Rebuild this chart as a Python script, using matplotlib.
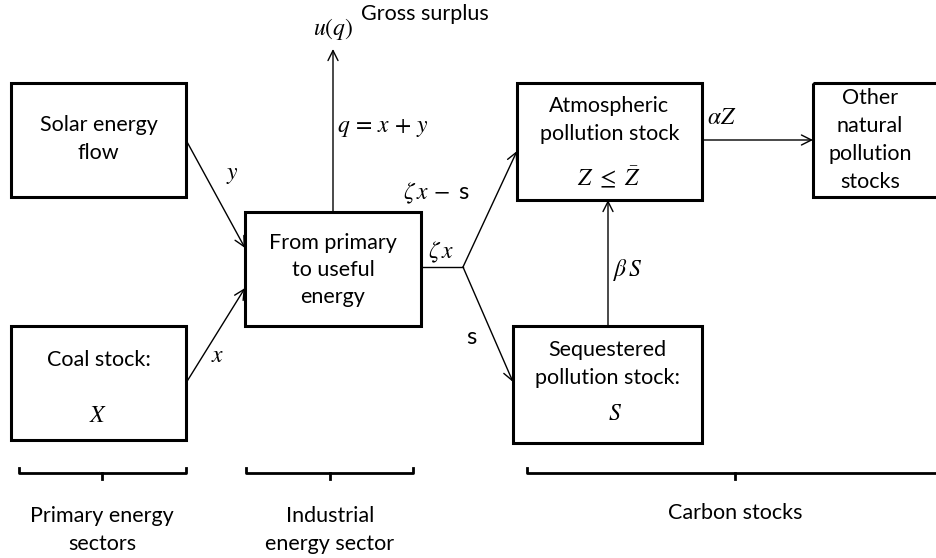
import matplotlib.pyplot as plt
from matplotlib.patches import Rectangle

plt.rcParams['font.family'] = ['Lato', 'DejaVu Sans']
plt.rcParams['mathtext.fontset'] = 'stix'

# boxes: (x0, y0, x1, y1) in pixel coords of the picture, and their labels
box_names = ['solar', 'coal', 'mid', 'atmo', 'other', 'seq']
box_rects = [(11, 83, 186, 197), (11, 326, 186, 440), (245, 212, 421, 326),
             (517, 83, 702, 200), (813, 83, 960, 197), (513, 326, 702, 443)]
box_texts = ['Solar energy\nflow', 'Coal stock:', 'From primary\nto useful\nenergy',
             'Atmospheric\npollution stock', 'Other\nnatural\npollution\nstocks',
             'Sequestered\npollution stock:']
box_text_y = [139, 360, 270, 120, 140, 364]
box_spacing = [1.45, 1.45, 1.45, 1.45, 1.5, 1.45]

# arrows: start -> end
arrow_from = [(186, 140), (186, 383), (333, 212), (463, 267), (463, 267), (702, 140), (608, 326)]
arrow_to = [(245, 248), (245, 288), (333, 49), (517, 151), (513, 382), (813, 140), (608, 200)]

# flow labels
flow_labels = [r'$y$', r'$x$', r'$q\,=\,x\,+\,y$', r'$u\left(q\right)$', r'$\zeta\, x$',
               r'$\zeta\, x\,-$ s', 's', r'$\alpha Z$', r'$\beta\, S$', r'$Z\ \leq\ \bar{Z}$',
               r'$X$', r'$S$']
flow_pos = [(232, 176), (218, 355), (337, 128), (333, 29), (441, 252), (437, 193),
            (471, 337), (722, 118), (628, 270), (609, 177), (98, 415), (615, 414)]
flow_ha = ['center', 'center', 'left', 'center', 'center', 'center',
           'center', 'center', 'center', 'center', 'center', 'center']

# braces at the bottom
brace_x0 = [19, 246, 527]
brace_x1 = [186, 413, 960]
brace_mid = [102, 330, 735]
brace_labels = ['Primary energy\nsectors', 'Industrial\nenergy sector', 'Carbon stocks']
brace_label_y = [530, 530, 513]

fig = plt.figure(figsize=(9.37, 5.58), dpi=100)
ax = fig.add_axes([0, 0, 1, 1])
ax.set_xlim(0, 937)
ax.set_ylim(558, 0)
ax.axis('off')

for (x0, y0, x1, y1), txt, ty, ls in zip(box_rects, box_texts, box_text_y, box_spacing):
    ax.add_patch(Rectangle((x0, y0), x1 - x0, y1 - y0, fill=False, lw=2.2, ec='black'))
    ax.text((x0 + x1) / 2 if x1 < 937 else 870, ty, txt, ha='center', va='center',
            fontsize=15.5, linespacing=ls)

# stem from the middle box to the branch point
ax.plot([421, 463], [267, 267], color='black', lw=1)

for s, e in zip(arrow_from, arrow_to):
    ax.annotate('', xy=e, xytext=s,
                arrowprops=dict(arrowstyle='->', lw=1, color='black',
                                shrinkA=0, shrinkB=0, mutation_scale=18))

for lab, (x, y), ha in zip(flow_labels, flow_pos, flow_ha):
    ax.text(x, y, lab, ha=ha, va='center', fontsize=17)

ax.text(361, 14, 'Gross surplus', ha='left', va='center', fontsize=15.5)

for x0, x1, xm, lab, ly in zip(brace_x0, brace_x1, brace_mid, brace_labels, brace_label_y):
    ax.plot([x0, x0, x1, x1], [468, 473, 473, 468], color='black', lw=2)
    ax.plot([xm, xm], [473, 479], color='black', lw=2)
    ax.text(xm, ly, lab, ha='center', va='center', fontsize=15.5, linespacing=1.5)

fig.savefig('out.png', dpi=100)
